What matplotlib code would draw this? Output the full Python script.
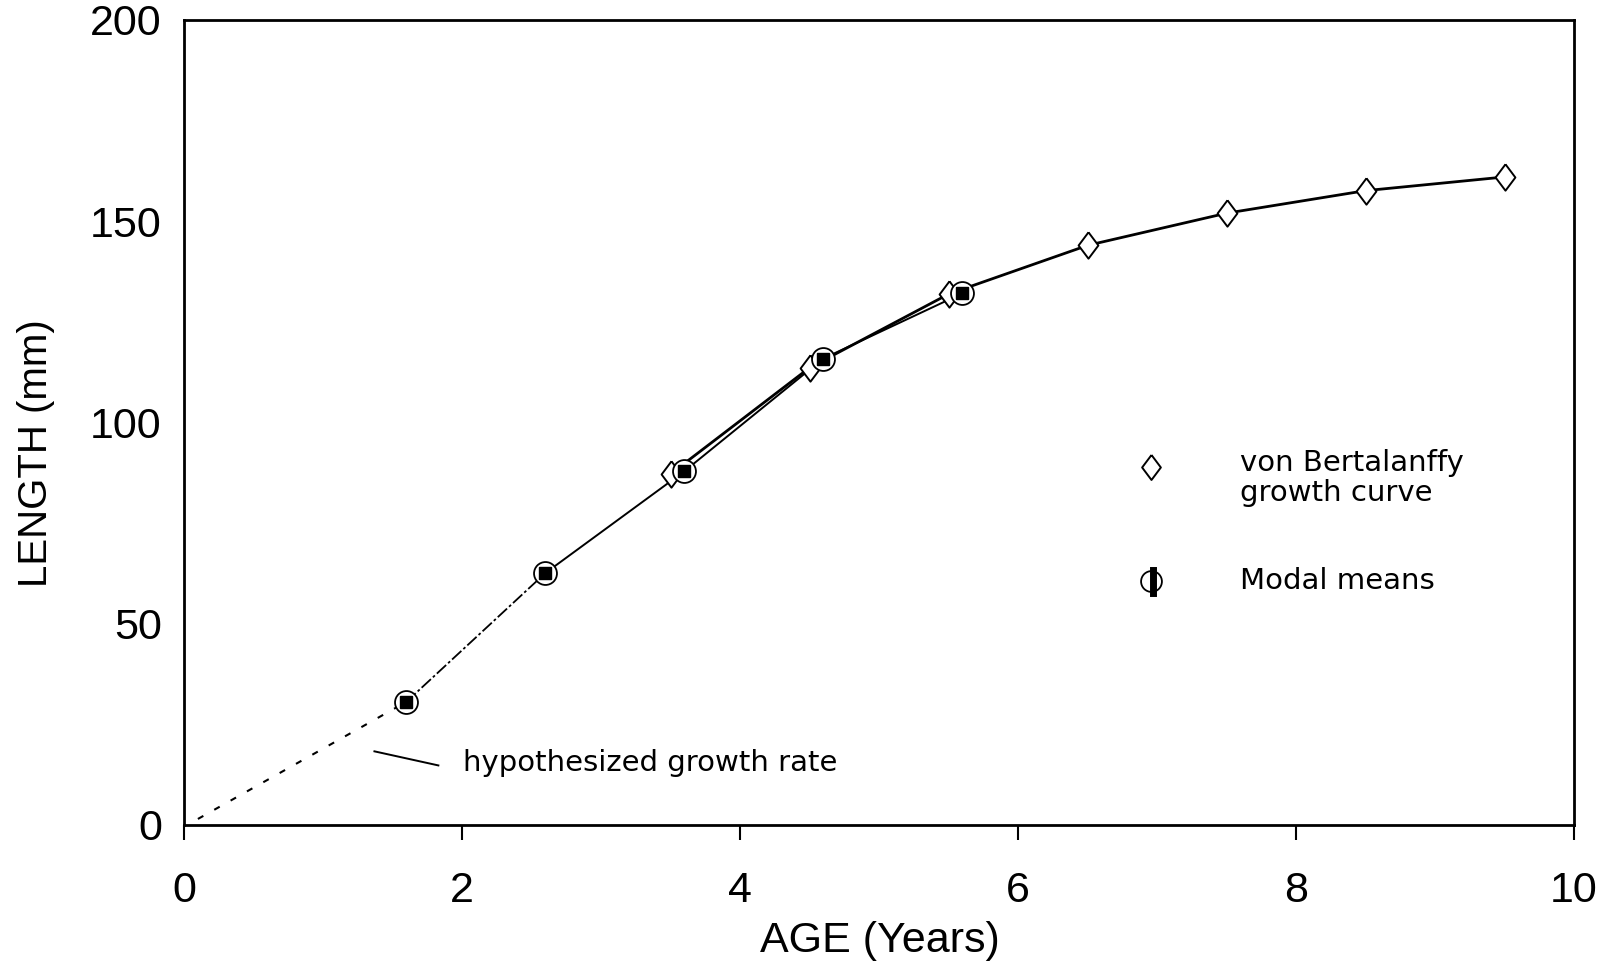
import matplotlib
matplotlib.use("Agg")
import matplotlib.pyplot as plt

# Von Bertalanffy growth curve values
vb_age = [3.5, 4.5, 5.5, 6.5, 7.5, 8.5, 9.5]
vb_len = [87.2, 113.6, 131.9, 144.0, 152.0, 157.6, 161.0]

# Modal means of length-frequency cohorts
modal_age = [1.6, 2.6, 3.6, 4.6, 5.6]
modal_len = [30.6, 62.6, 87.9, 115.9, 132.1]

# Hypothesized early growth from hatching to the first mode
hypo_age = [0.1, 1.6]
hypo_len = [1.5, 30.6]

x_ticks = [0, 2, 4, 6, 8, 10]
y_ticks = [0, 50, 100, 150, 200]

W, H = 1607, 969
fig = plt.figure(figsize=(W / 100, H / 100), dpi=100)
ax = fig.add_axes([184 / W, 1 - 825 / H, (1574 - 184) / W, (825 - 20) / H])

font = "Liberation Sans"
small = "DejaVu Sans"

# wide diamond outline
diamond = [(0, 1), (0.75, 0), (0, -1), (-0.75, 0), (0, 1)]

# dashed hypothesized segment
ax.plot(hypo_age, hypo_len, color="black", lw=1.5, ls=(0, (3, 6)))
# dash-dot link between first two modes
ax.plot(modal_age[:2], modal_len[:2], color="black", lw=1.3,
        ls=(0, (7, 1.5, 1.5, 1.5)))
# modal means line
ax.plot(modal_age[1:], modal_len[1:], color="black", lw=1.4)
# growth curve line
ax.plot(vb_age, vb_len, color="black", lw=2.0)

# diamonds
ax.plot(vb_age, vb_len, ls="none", marker=diamond, ms=19, mfc="white",
        mec="black", mew=1.4, zorder=4)
# modal means: open circle with filled block
ax.plot(modal_age, modal_len, ls="none", marker="o", ms=16.5, mfc="white",
        mec="black", mew=1.3, zorder=5)
ax.plot(modal_age, modal_len, ls="none", marker="s", ms=9, mfc="black",
        mec="black", zorder=6)

# annotation for the dashed part
ax.plot([1.37, 1.83], [18.3, 14.8], color="black", lw=1.4)
ax.text(2.01, 15.5, "hypothesized growth rate", family=small, fontsize=21,
        va="center", ha="left")

ax.set_xlim(0, 10)
ax.set_ylim(0, 200)
ax.set_xticks(x_ticks)
ax.set_yticks(y_ticks)
ax.set_xticklabels([str(v) for v in x_ticks], family=font, fontsize=31)
ax.set_yticklabels([str(v) for v in y_ticks], family=font, fontsize=31)
ax.tick_params(axis="x", direction="out", length=11, width=1.5, pad=22)
ax.tick_params(axis="y", length=0, pad=16)
for s in ax.spines.values():
    s.set_linewidth(2)

fig.text(880 / W, 1 - 941 / H, "AGE (Years)", family=font, fontsize=31,
         ha="center", va="center")
fig.text(36 / W, 1 - 453 / H, "LENGTH (mm)", family=font,
         fontsize=29, ha="center", va="center", rotation=90)

# legend drawn in figure coordinates
def fx(px):
    return px / W

def fy(py):
    return 1 - py / H

ax.plot([fx(1151)], [fy(467)], transform=fig.transFigure, marker=diamond,
        ms=18, mfc="white", mec="black", mew=1.4, clip_on=False, ls="none")
fig.text(fx(1240), fy(463), "von Bertalanffy", family=small, fontsize=21,
         va="center", ha="left")
fig.text(fx(1240), fy(493), "growth curve", family=small, fontsize=21,
         va="center", ha="left")
ax.plot([fx(1151)], [fy(581)], transform=fig.transFigure, marker="o", ms=15,
        mfc="white", mec="black", mew=1.3, clip_on=False, ls="none")
ax.plot([fx(1153), fx(1153)], [fy(570), fy(593)], transform=fig.transFigure,
        color="black", lw=5, clip_on=False)
fig.text(fx(1240), fy(581), "Modal means", family=small, fontsize=21,
         va="center", ha="left")

fig.savefig("out.png", dpi=100, facecolor="white")
